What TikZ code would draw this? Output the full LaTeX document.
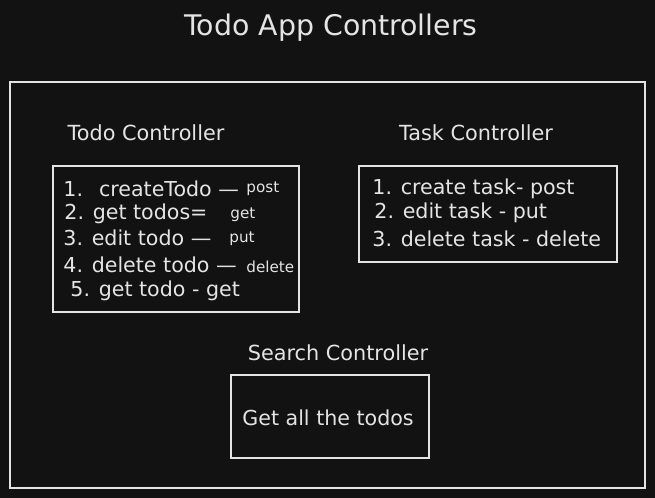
\documentclass[tikz,border=0pt]{standalone}
\usepackage{fontspec}
\setmainfont{DejaVu Sans}
\usepackage{tikz}
\definecolor{board}{RGB}{18, 18, 18}
\definecolor{chalk}{RGB}{228, 228, 228}

\tikzset{
    frame/.style={draw=chalk, line width=0.65pt},
    heading/.style={text=chalk, font=\fontsize{10.4}{12}\selectfont, inner sep=0pt},
    entry/.style={text=chalk, font=\fontsize{10.3}{12}\selectfont, anchor=west, inner sep=0pt},
    verb/.style={text=chalk, font=\fontsize{7.6}{9}\selectfont, anchor=west, inner sep=0pt}
}

\begin{document}
\begin{tikzpicture}[x=0.5pt, y=-0.5pt]
        % Board
        \fill[board] (0,0) rectangle (655,498);
        \useasboundingbox (0,0) rectangle (655,498);

        % Title and outer frame
        \node[heading, font=\fontsize{14.2}{17}\selectfont] (title) at (331,28) {Todo App Controllers};
        \draw[frame] (10,82) rectangle (645,488);

        % Todo controller
        \node[heading] (todohead) at (146,133) {Todo Controller};
        \draw[frame] (53,166) rectangle (299,312);
        \node[entry] (todoA) at (63,189) {1.\hspace{8pt}createTodo —};
        \node[verb] (todoAverb) at (246,189) {post};
        \node[entry] (todoB) at (64,214) {2. get todos=};
        \node[verb] (todoBverb) at (230,215) {get};
        \node[entry] (todoC) at (63,238) {3. edit todo —};
        \node[verb] (todoCverb) at (229,239) {put};
        \node[entry] (todoD) at (63,265) {4. delete todo —};
        \node[verb] (todoDverb) at (246,267) {delete};
        \node[entry] (todoE) at (70,291) {5. get todo - get};

        % Task controller
        \node[heading] (taskhead) at (476,133) {Task Controller};
        \draw[frame] (359,166) rectangle (617,262);
        \node[entry] (taskA) at (372,189) {1. create task- post};
        \node[entry] (taskB) at (374,213) {2. edit task - put};
        \node[entry] (taskC) at (372,239) {3. delete task - delete};

        % Search controller
        \node[heading] (searchhead) at (338,353) {Search Controller};
        \draw[frame] (231,375) rectangle (429,458);
        \node[entry] (searchA) at (242,418) {Get all the todos};
    \end{tikzpicture}
\end{document}
